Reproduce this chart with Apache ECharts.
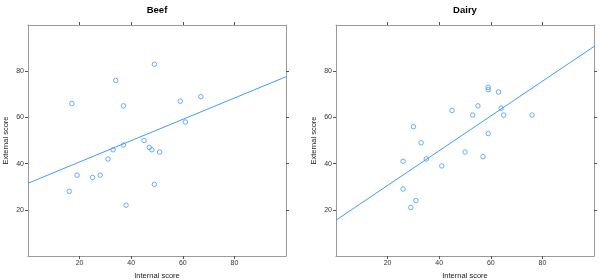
<!DOCTYPE html>
<html>
<head>
<meta charset="utf-8">
<script src="https://cdn.jsdelivr.net/npm/echarts@6/dist/echarts.min.js"></script>
<style>html,body{margin:0;padding:0;background:#fff}#c{width:600px;height:280px}</style>
</head>
<body>
<div id="c"></div>
<script>
const panels = ['Beef', 'Dairy'];
const beefX = [17, 34, 37, 49, 59, 67, 61, 45, 47, 48, 51, 37, 33, 31, 19, 28, 25, 16, 49, 38];
const beefY = [66, 76, 65, 83, 67, 69, 58, 50, 47, 46, 45, 48, 46, 42, 35, 35, 34, 28, 31, 22];
const dairyX = [59, 59, 63, 45, 55, 53, 64, 65, 76, 30, 59, 33, 26, 35, 41, 50, 57, 26, 31, 29];
const dairyY = [73, 72, 71, 63, 65, 61, 64, 61, 61, 56, 53, 49, 41, 42, 39, 45, 43, 29, 24, 21];
// fitted lines: value at x=0 and x=100
const lineX = [0, 100];
const beefLine = [31.5, 77.6];
const dairyLine = [15.5, 90.7];
const tickValues = [20, 40, 60, 80];

const FONT = "'Liberation Sans', Arial, Helvetica, sans-serif";
const AX = '#9a9a9a';
const BLUE = '#3f9cff';
const lefts = [28, 336];
const W = 258, TOP = 25, H = 231;

const xs = [beefX, dairyX], ys = [beefY, dairyY], ls = [beefLine, dairyLine];

const grid = [], xAxis = [], yAxis = [], series = [], title = [];
panels.forEach((p, i) => {
  grid.push({left: lefts[i], top: TOP, width: W, height: H, containLabel: false, outerBoundsMode: 'none'});
  title.push({text: p, left: lefts[i] + W / 2, top: 5, padding: 0, textAlign: 'center',
    textStyle: {fontFamily: FONT, fontSize: 9.5, fontWeight: 'bold', color: '#000'}});
  const common = () => ({min: 0, max: 100, interval: 20, splitLine: {show: false},
    axisLine: {show: true, onZero: false, lineStyle: {color: AX, width: 1}},
    axisTick: {show: true, length: 3, customValues: tickValues, lineStyle: {color: '#555'}}});
  xAxis.push(Object.assign(common(), {type: 'value', gridIndex: i, position: 'bottom',
    axisLabel: {show: true, customValues: tickValues, fontFamily: FONT, fontSize: 7, color: '#333', margin: 4},
    name: 'Internal score', nameLocation: 'middle', nameGap: 15,
    nameTextStyle: {fontFamily: FONT, fontSize: 7.5, color: '#222'}}));
  xAxis.push(Object.assign(common(), {type: 'value', gridIndex: i, position: 'top',
    axisLabel: {show: false}}));
  yAxis.push(Object.assign(common(), {type: 'value', gridIndex: i, position: 'left',
    axisLabel: {show: true, customValues: tickValues, fontFamily: FONT, fontSize: 7, color: '#333', margin: 4},
    name: 'External score', nameLocation: 'middle', nameGap: 18, nameRotate: 90,
    nameTextStyle: {fontFamily: FONT, fontSize: 7.5, color: '#222'}}));
  yAxis.push(Object.assign(common(), {type: 'value', gridIndex: i, position: 'right',
    axisLabel: {show: false}}));
  series.push({type: 'scatter', xAxisIndex: i * 2, yAxisIndex: i * 2,
    data: xs[i].map((x, k) => [x, ys[i][k]]),
    symbol: 'circle', symbolSize: 4.5,
    itemStyle: {color: 'rgba(0,0,0,0)', borderColor: BLUE, borderWidth: 1},
    silent: true, animation: false});
  series.push({type: 'line', xAxisIndex: i * 2, yAxisIndex: i * 2,
    data: lineX.map((x, k) => [x, ls[i][k]]),
    symbol: 'none', lineStyle: {color: BLUE, width: 1}, silent: true, animation: false});
});

const chart = echarts.init(document.getElementById('c'), null, {renderer: 'canvas'});
chart.setOption({animation: false, backgroundColor: '#fff', title, grid, xAxis, yAxis, series});
</script>
</body>
</html>
